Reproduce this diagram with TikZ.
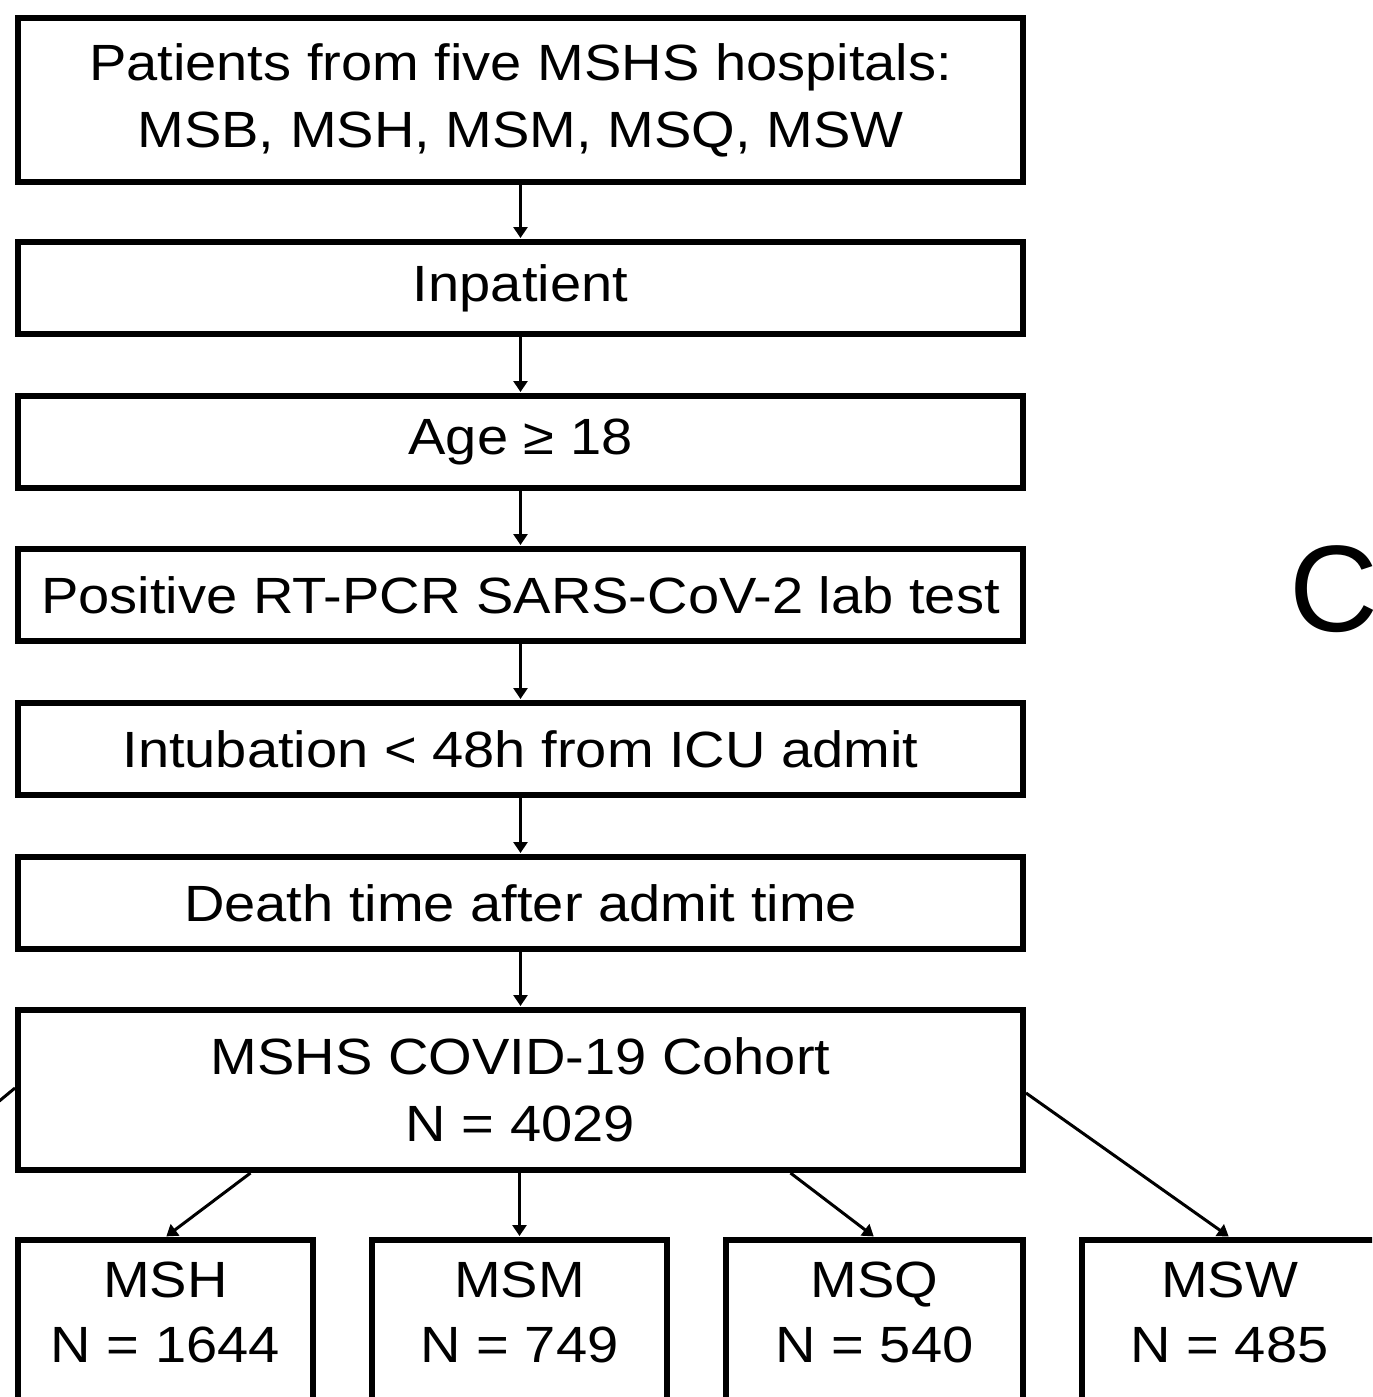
\documentclass[tikz,border=0pt]{standalone}
\usepackage{fontspec}
\setmainfont{Liberation Sans}
\newfontfamily\boxfont[FakeStretch=1.1]{Liberation Sans}
\usetikzlibrary{arrows.meta}
\begin{document}
\begin{tikzpicture}[
  box/.style={draw=black, line width=0.12cm, rectangle, inner sep=0pt, minimum width=20.1cm, align=center, font=\boxfont\fontsize{29}{38}\selectfont},
  sbox/.style={draw=black, line width=0.12cm, rectangle, inner sep=0pt, minimum width=5.9cm, minimum height=4.26cm, anchor=north},
  stext/.style={anchor=north, align=center, inner sep=0pt, font=\boxfont\fontsize{29}{37}\selectfont},
  arr/.style={line width=0.06cm, -{Triangle[length=0.22cm, width=0.28cm]}, shorten >=0.02cm},
  ln/.style={line width=0.06cm}
]
\useasboundingbox (0,0) rectangle (27.44,-27.94);
\clip (0,0) rectangle (27.44,-27.94);
\node[box, minimum height=3.28cm] (b1) at (10.41,-2.0) {Patients from five MSHS hospitals:\\MSB, MSH, MSM, MSQ, MSW};
\node[box, minimum height=1.84cm] (b2) at (10.41,-5.76) {Inpatient};
\node[box, minimum height=1.84cm] (b3) at (10.41,-8.84) {Age ≥ 18};
\node[box, minimum height=1.84cm] (b4) at (10.41,-11.9) {Positive RT-PCR SARS-CoV-2 lab test};
\node[box, minimum height=1.84cm] (b5) at (10.41,-14.98) {Intubation {<} 48h from ICU admit};
\node[box, minimum height=1.84cm] (b6) at (10.41,-18.06) {Death time after admit time};
\node[box, minimum height=3.2cm] (cohort) at (10.41,-21.8) {MSHS COVID-19 Cohort\\N = 4029};

\node[sbox] (msh) at (3.31,-24.74) {};
\node[sbox] (msm) at (10.39,-24.74) {};
\node[sbox, minimum width=5.94cm] (msq) at (17.49,-24.74) {};
\node[sbox] (msw) at (24.59,-24.74) {};
\node[stext] (tmsh) at ([yshift=-0.5cm]msh.north) {MSH\\N = 1644};
\node[stext] (tmsm) at ([yshift=-0.5cm]msm.north) {MSM\\N = 749};
\node[stext] (tmsq) at ([yshift=-0.5cm]msq.north) {MSQ\\N = 540};
\node[stext] (tmsw) at ([yshift=-0.5cm]msw.north) {MSW\\N = 485};

\node[anchor=base west, inner sep=0pt, font=\fontsize{70}{80}\selectfont] (lc) at (25.78,-12.62) {C};

\draw[arr] (b1.south) -- (b2.north);
\draw[arr] (b2.south) -- (b3.north);
\draw[arr] (b3.south) -- (b4.north);
\draw[arr] (b4.south) -- (b5.north);
\draw[arr] (b5.south) -- (b6.north);
\draw[arr] (b6.south) -- (cohort.north);
\draw[arr] ([xshift=-5.4cm]cohort.south) -- (msh.north);
\draw[arr] (cohort.south -| msm.north) -- (msm.north);
\draw[arr] ([xshift=5.4cm]cohort.south) -- (msq.north);
\draw[arr] ([yshift=-0.06cm]cohort.east) -- (msw.north);
\coordinate (offl) at (-0.4,-22.34);
\draw[ln] ([yshift=0.04cm]cohort.west) -- (offl);
\end{tikzpicture}
\end{document}
